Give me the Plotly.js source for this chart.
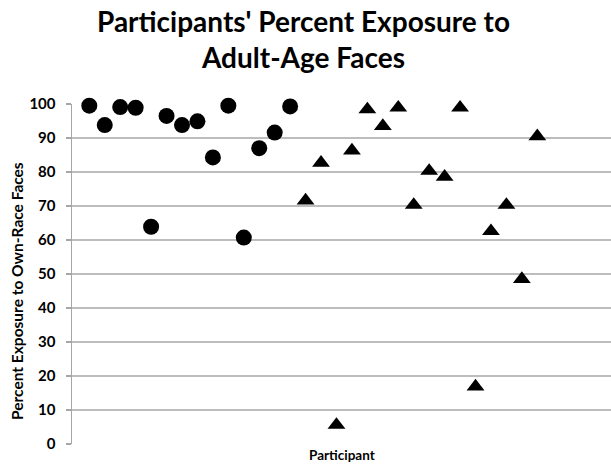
<!DOCTYPE html>
<html>
<head>
<meta charset="utf-8">
<script src="https://cdn.plot.ly/plotly-3.0.1.min.js"></script>
<style>html,body{margin:0;padding:0;background:#fff;}#chart{width:611px;height:465px;}</style>
</head>
<body>
<div id="chart"></div>
<script>
// Participants 1-14 (circles) and 15-30 (triangles)
const circleParticipants = [1,2,3,4,5,6,7,8,9,10,11,12,13,14];
const circleExposure = [99.5,93.8,99.1,98.9,63.9,96.5,93.8,94.9,84.3,99.5,60.7,87.0,91.6,99.3];
const triangleParticipants = [15,16,17,18,19,20,21,22,23,24,25,26,27,28,29,30];
const triangleExposure = [71.6,82.7,5.6,86.3,98.4,93.5,98.9,70.3,80.3,78.6,98.9,16.9,62.6,70.3,48.5,90.5];
const yTicks = [0,10,20,30,40,50,60,70,80,90,100];

const titleText = "Participants' Percent Exposure to<br>Adult-Age Faces";
const yTitleText = "Percent Exposure to Own-Race Faces";
const xTitleText = "Participant";

const FONT = "Lato, 'Open Sans', sans-serif";

const traces = [
  {x: circleParticipants, y: circleExposure, type: 'scatter', mode: 'markers',
   marker: {symbol: 'circle', size: 16, color: '#000'}, cliponaxis: false, hoverinfo: 'skip'},
  {x: triangleParticipants, y: triangleExposure, type: 'scatter', mode: 'markers',
   marker: {symbol: 'triangle-up', size: 15.5, color: '#000'}, cliponaxis: false, hoverinfo: 'skip'}
];

const layout = {
  width: 611, height: 465,
  margin: {l: 72, r: 0, t: 104, b: 21},
  paper_bgcolor: '#fff', plot_bgcolor: '#fff',
  showlegend: false,
  font: {family: FONT, color: '#000'},
  xaxis: {range: [-0.12, 34.77], showgrid: false, zeroline: false, showticklabels: false,
          ticks: '', showline: false, fixedrange: true},
  yaxis: {range: [0, 100], tickvals: yTicks, ticktext: yTicks.map(String),
          showgrid: true, gridcolor: '#bdbdbd', gridwidth: 1.5, zeroline: false,
          showline: true, linecolor: '#a6a6a6', linewidth: 1.5,
          ticks: 'outside', ticklen: 5, tickcolor: '#a6a6a6', tickwidth: 1.5,
          tickfont: {family: FONT, size: 15, weight: 700, color: '#000'}, ticklabelstandoff: 7,
          fixedrange: true},
  annotations: [
    {text: titleText, xref: 'paper', yref: 'paper', x: 0.43, y: 1, yshift: 28,
     xanchor: 'center', yanchor: 'bottom', showarrow: false, align: 'center',
     font: {family: FONT, size: 28, weight: 700, color: '#000'}},
    {text: yTitleText, xref: 'paper', yref: 'paper', x: 0, xshift: -55, y: 0.45,
     xanchor: 'center', yanchor: 'middle', textangle: -90, showarrow: false,
     font: {family: FONT, size: 15.5, weight: 700, color: '#000'}},
    {text: xTitleText, xref: 'paper', yref: 'paper', x: 0.5, y: 0, yshift: -1,
     xanchor: 'center', yanchor: 'top', showarrow: false,
     font: {family: FONT, size: 13.5, weight: 700, color: '#000'}}
  ]
};

Plotly.newPlot('chart', traces, layout, {staticPlot: true, displayModeBar: false});
</script>
</body>
</html>
